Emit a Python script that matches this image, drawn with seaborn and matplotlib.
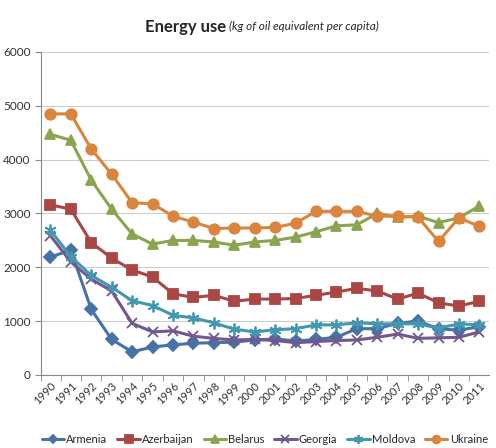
import pandas as pd
import matplotlib
matplotlib.use('Agg')
import matplotlib.pyplot as plt
import seaborn as sns

sns.set_style('white')
plt.rcParams['font.family'] = ['Lato', 'DejaVu Sans']

# Data
years = list(range(1990, 2012))
armenia = [2190, 2320, 1220, 660, 430, 520, 560, 590, 600, 610, 650, 670, 630, 660, 700, 860, 860, 960, 1000, 860, 830, 900]
azerbaijan = [3160, 3080, 2460, 2170, 1950, 1820, 1510, 1440, 1480, 1370, 1410, 1410, 1420, 1480, 1540, 1610, 1560, 1410, 1520, 1340, 1280, 1370]
belarus = [4470, 4360, 3620, 3080, 2620, 2430, 2500, 2500, 2470, 2410, 2470, 2500, 2560, 2660, 2770, 2790, 3000, 2930, 2950, 2830, 2920, 3140]
georgia = [2590, 2100, 1780, 1560, 960, 800, 820, 720, 680, 650, 660, 640, 600, 620, 640, 650, 700, 760, 680, 690, 700, 800]
moldova = [2690, 2200, 1850, 1630, 1380, 1290, 1110, 1060, 970, 850, 800, 840, 860, 930, 930, 970, 950, 950, 950, 870, 950, 930]
ukraine = [4850, 4850, 4200, 3730, 3200, 3180, 2950, 2840, 2720, 2730, 2730, 2740, 2820, 3040, 3040, 3040, 2950, 2950, 2930, 2480, 2920, 2760]

countries = ['Armenia', 'Azerbaijan', 'Belarus', 'Georgia', 'Moldova', 'Ukraine']
series = [armenia, azerbaijan, belarus, georgia, moldova, ukraine]
colors = ['#4572A7', '#AA4643', '#89A54E', '#71588F', '#4198AF', '#DB843D']
marks = ['D', 's', '^', 'x', (6, 2, 0), 'o']
sizes = [6, 7, 7, 7, 8.5, 7.5]

fig, ax = plt.subplots(figsize=(4.96, 4.48), dpi=100)
fig.subplots_adjust(left=0.083, right=0.985, top=0.884, bottom=0.163)

for c, vals, col, m, ms in zip(countries, series, colors, marks, sizes):
    d = pd.DataFrame({'year': years, 'value': vals})
    sns.lineplot(data=d, x='year', y='value', color=col, marker=m,
                 markersize=ms, markeredgecolor=col, markeredgewidth=1.3,
                 linewidth=2.2, label=c, ax=ax)

ax.set_ylim(0, 6000)
ax.set_yticks(range(0, 6001, 1000))
ax.set_xlim(1989.55, 2011.45)
ax.set_xticks(years)
ax.set_xticklabels([str(y) for y in years], rotation=45, ha='right',
                   rotation_mode='anchor', fontsize=8, color='#333333')
ax.tick_params(axis='y', labelsize=8.5, length=4, color='#888888', left=True,
               labelcolor='#333333')
ax.tick_params(axis='x', length=0, pad=4)
ax.set_xticks([y + 0.5 for y in years[:-1]] + [1989.55], minor=True)
ax.tick_params(axis='x', which='minor', length=4, color='#888888', bottom=True)
ax.grid(axis='y', color='#CCCCCC', linewidth=0.8)
ax.set_xlabel('')
ax.set_ylabel('')
for s in ['top', 'right']:
    ax.spines[s].set_visible(False)
for s in ['left', 'bottom']:
    ax.spines[s].set_color('#888888')

handles, labels = ax.get_legend_handles_labels()
ax.legend(handles, labels, loc='center', bbox_to_anchor=(0.5, -0.2),
          ncol=6, frameon=False, fontsize=8, handlelength=2.0,
          markerscale=0.75, columnspacing=0.9, handletextpad=0.2,
          borderaxespad=0)

fig.text(0.455, 0.94, 'Energy use', fontsize=12, fontweight='bold',
         ha='right', va='center')
fig.text(0.462, 0.94, '(kg of oil equivalent per capita)', fontsize=8.5,
         style='italic', ha='left', va='center')

fig.savefig('out.png', dpi=100)
